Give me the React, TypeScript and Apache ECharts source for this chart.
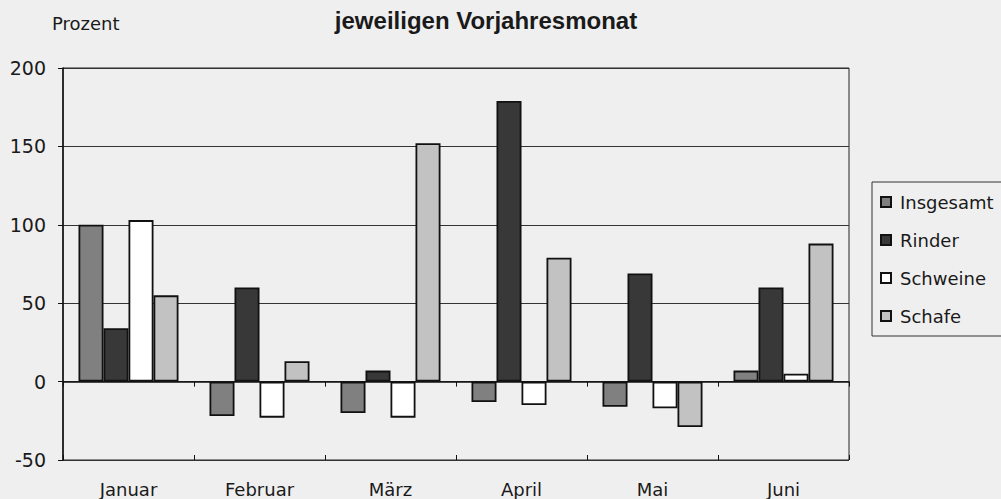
import React, { useEffect, useRef } from "react";
import * as echarts from "echarts";

const months = ["Januar", "Februar", "März", "April", "Mai", "Juni"];
const insgesamt = [100, -22, -20, -13, -16, 7];
const rinder = [34, 60, 7, 179, 69, 60];
const schweine = [103, -23, -23, -15, -17, 5];
const schafe = [55, 13, 152, 79, -29, 88];
const seriesNames = ["Insgesamt", "Rinder", "Schweine", "Schafe"];
const yMin = -50;
const yMax = 200;
const yStep = 50;

const FONT = "'DejaVu Sans', sans-serif";
const TITLE_FONT = "'Liberation Sans', Arial, sans-serif";

export default function App() {
  const ref = useRef<HTMLDivElement>(null);
  useEffect(() => {
    if (!ref.current) return;
    const chart = echarts.init(ref.current, undefined, { renderer: "svg" });
    const fills = ["#808080", "#383838", "#ffffff", "#c2c2c2"];
    const values = [insgesamt, rinder, schweine, schafe];
    chart.setOption({
      animation: false,
      backgroundColor: "#efefef",
      textStyle: { fontFamily: FONT },
      title: [
        {
          text: "jeweiligen Vorjahresmonat",
          left: 481,
          top: 3,
          textAlign: "center",
          textStyle: { fontSize: 24, fontWeight: "bold", color: "#1a1a1a", fontFamily: TITLE_FONT },
        },
        {
          text: "Prozent",
          left: 52,
          top: 14,
          padding: 0,
          textStyle: { fontSize: 18, fontWeight: "normal", color: "#1a1a1a", fontFamily: FONT },
        },
      ],
      legend: {
        orient: "vertical",
        left: 872,
        top: 182,
        padding: [10, 14, 10, 8],
        itemWidth: 10,
        itemHeight: 10,
        itemGap: 18,
        icon: "rect",
        borderColor: "#333",
        borderWidth: 1,
        data: seriesNames,
        textStyle: { fontSize: 18, color: "#1a1a1a", lineHeight: 20, fontFamily: FONT, padding: [0, 0, 0, 4] },
      },
      grid: {
        left: 63,
        right: 152,
        top: 68,
        bottom: 39,
        show: true,
        borderColor: "#222",
        borderWidth: 1,
        backgroundColor: "transparent",
      },
      xAxis: [
        {
          type: "category",
          data: months,
          position: "bottom",
          axisLine: { show: false, onZero: false },
          axisTick: { show: false },
          axisLabel: { margin: 20, fontSize: 18, lineHeight: 18, color: "#1a1a1a", fontFamily: FONT },
        },
        {
          type: "category",
          data: months,
          position: "bottom",
          axisLine: { show: true, onZero: true, lineStyle: { color: "#111", width: 1.5 } },
          axisTick: { show: true, length: 5, inside: false, lineStyle: { color: "#111", width: 1 } },
          axisLabel: { show: false },
        },
        {
          type: "category",
          data: months,
          position: "bottom",
          axisLine: { show: false, onZero: true },
          axisTick: { show: true, length: 5, inside: true, lineStyle: { color: "#111", width: 1 } },
          axisLabel: { show: false },
        },
      ],
      yAxis: {
        type: "value",
        min: yMin,
        max: yMax,
        interval: yStep,
        axisLine: { show: true, lineStyle: { color: "#111", width: 1.5 } },
        axisTick: { show: true, length: 5, lineStyle: { color: "#111" } },
        axisLabel: { fontSize: 19, color: "#1a1a1a", margin: 17, fontFamily: FONT },
        splitLine: { show: true, lineStyle: { color: "#333", width: 1 } },
      },
      series: seriesNames.map((name, i) => ({
        name,
        type: "bar",
        xAxisIndex: 0,
        data: values[i],
        barWidth: 25,
        barGap: "0%",
        itemStyle: { color: fills[i], borderColor: "#111", borderWidth: 1.8 },
      })),
    });
    return () => chart.dispose();
  }, []);
  return (
    <div
      ref={ref}
      style={{ position: "fixed", left: 0, top: 0, width: 1001, height: 499 }}
    />
  );
}
